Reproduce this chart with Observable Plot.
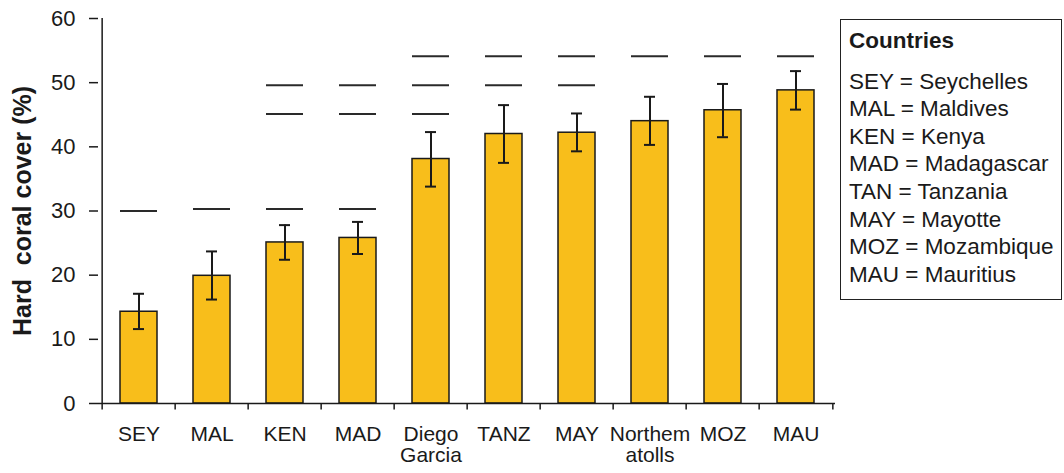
<!DOCTYPE html>
<html>
<head>
<meta charset="utf-8">
<script src="https://cdn.jsdelivr.net/npm/d3@7"></script>
<script src="https://cdn.jsdelivr.net/npm/@observablehq/plot@0.6"></script>
<style>
  html, body { margin: 0; padding: 0; background: #fff; }
  #wrap { position: relative; width: 1064px; height: 473px; font-family: "Liberation Sans", Arial, sans-serif; }
  #wrap svg text { white-space: pre; }
  #legend {
    position: absolute; left: 840px; top: 19px; width: 222px; height: 281px;
    box-sizing: border-box; border: 1.5px solid #222; padding: 7px 0 0 8px;
    color: #1a1a1a; font-size: 22.5px; line-height: 27.6px;
  }
  #legend .title { font-weight: bold; margin-bottom: 13px; }
</style>
</head>
<body>
<div id="wrap"></div>
<script>
const categories = ["SEY", "MAL", "KEN", "MAD", "Diego\nGarcia", "TANZ", "MAY", "Northem\natolls", "MOZ", "MAU"];
const cover = [14.3, 19.9, 25.1, 25.8, 38.1, 42.0, 42.2, 44.0, 45.7, 48.8];
const errLow = [11.6, 16.2, 22.4, 23.3, 33.8, 37.5, 39.3, 40.3, 41.5, 45.8];
const errHigh = [17.1, 23.7, 27.8, 28.3, 42.3, 46.5, 45.2, 47.8, 49.8, 51.8];

const dashCategory = ["SEY", "MAL", "KEN", "KEN", "KEN", "MAD", "MAD", "MAD",
  "Diego\nGarcia", "Diego\nGarcia", "Diego\nGarcia", "TANZ", "TANZ", "MAY", "MAY",
  "Northem\natolls", "MOZ", "MAU"];
const dashValue = [30.0, 30.3, 30.3, 45.1, 49.6, 30.3, 45.1, 49.6,
  45.1, 49.6, 54.1, 49.6, 54.1, 49.6, 54.1,
  54.1, 54.1, 54.1];

const yTicks = [0, 10, 20, 30, 40, 50, 60];
const yLabel = "Hard  coral cover (%)";

const legendTitle = "Countries";
const legendCodes = ["SEY", "MAL", "KEN", "MAD", "TAN", "MAY", "MOZ", "MAU"];
const legendNames = ["Seychelles", "Maldives", "Kenya", "Madagascar", "Tanzania", "Mayotte", "Mozambique", "Mauritius"];

const data = categories.map((c, i) => ({cat: c, cover: cover[i], lo: errLow[i], hi: errHigh[i]}));
const dashes = dashCategory.map((c, i) => ({cat: c, y: dashValue[i]}));

const W = 1064, H = 473, mL = 98, mR = 229, mT = 18, mB = 70;
const step = (W - mL - mR) / categories.length;
const ink = "#1a1a1a";

const chart = Plot.plot({
  width: W, height: H,
  marginLeft: mL, marginRight: mR, marginTop: mT, marginBottom: mB,
  style: {fontFamily: '"Liberation Sans", Arial, sans-serif', color: ink, background: "#fff"},
  x: {domain: categories, paddingInner: 0.5, paddingOuter: 0.25, axis: null},
  y: {domain: [0, 60], axis: null},
  marks: [
    Plot.barY(data, {x: "cat", y: "cover", fill: "#F8BE1B", stroke: ink, strokeWidth: 1.5}),
    Plot.ruleX(data, {x: "cat", y1: "lo", y2: "hi", stroke: ink, strokeWidth: 2}),
    Plot.tickY(data, {x: "cat", y: "lo", insetLeft: 13, insetRight: 13, stroke: ink, strokeWidth: 2}),
    Plot.tickY(data, {x: "cat", y: "hi", insetLeft: 13, insetRight: 13, stroke: ink, strokeWidth: 2}),
    Plot.tickY(dashes, {x: "cat", y: "y", stroke: "#2a2a2a", strokeWidth: 2}),
    Plot.ruleY([0], {stroke: ink, strokeWidth: 1.5}),
    Plot.ruleX([categories[0]], {x: d => d, y1: 0, y2: 60, dx: -step / 2, stroke: ink, strokeWidth: 1.5}),
    Plot.ruleX(categories, {x: d => d, y1: 0, y2: -1, dx: -step / 2, stroke: ink, strokeWidth: 1.5}),
    Plot.ruleX([categories[categories.length - 1]], {x: d => d, y1: 0, y2: -1, dx: step / 2, stroke: ink, strokeWidth: 1.5}),
    Plot.axisY({ticks: yTicks, tickSize: 9, tickPadding: 14, fontSize: 22, label: null, stroke: ink, strokeWidth: 1.5}),
    Plot.axisX({tickSize: 0, tickPadding: 23, fontSize: 21, lineHeight: 1.0, label: null}),
    Plot.text([yLabel], {frameAnchor: "left", textAnchor: "middle", rotate: -90, dx: -76, fontSize: 25, fontWeight: "bold", fill: ink})
  ]
});

const wrap = document.getElementById("wrap");
wrap.appendChild(chart);

const legend = document.createElement("div");
legend.id = "legend";
const t = document.createElement("div");
t.className = "title";
t.textContent = legendTitle;
legend.appendChild(t);
legendCodes.forEach((c, i) => {
  const d = document.createElement("div");
  d.textContent = c + " = " + legendNames[i];
  legend.appendChild(d);
});
wrap.appendChild(legend);
</script>
</body>
</html>
